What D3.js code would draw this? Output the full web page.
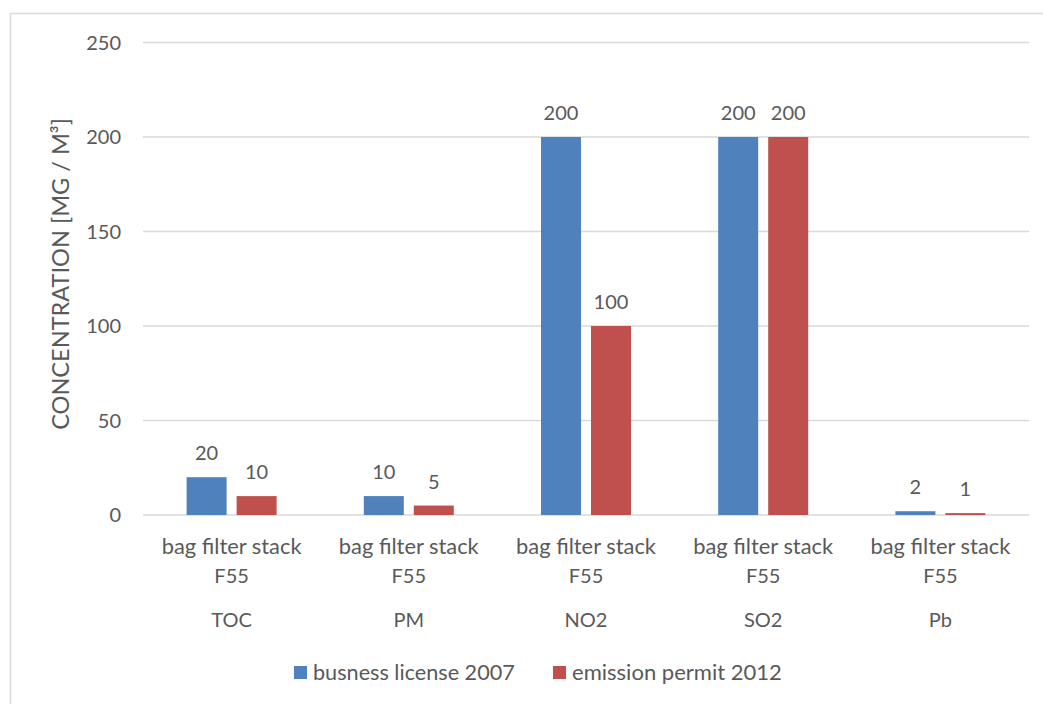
<!DOCTYPE html>
<html><head><meta charset="utf-8">
<script src="https://cdn.jsdelivr.net/npm/d3@7"></script>
<style>body{margin:0;background:#fff}svg{display:block}text{font-family:Lato,"Open Sans",sans-serif;fill:#595959}</style>
</head><body><svg id="c" width="1043" height="704"></svg>
<script>
const categories = ["TOC","PM","NO2","SO2","Pb"];
const subLabel = ["bag filter stack","F55"];
const seriesNames = ["busness license 2007","emission permit 2012"];
const license2007 = [20,10,200,200,2];
const permit2012 = [10,5,100,200,1];
const yTicks = [0,50,100,150,200,250];
const colors = ["#4f81bd","#c0504d"];

const svg = d3.select("#c");
svg.append("rect").attr("x",10.5).attr("y",13.5).attr("width",1040).attr("height",700)
  .attr("fill","none").attr("stroke","#d9d9d9").attr("stroke-width",1.5);

function fit(sel, target){
  const n = sel.node(); const fs = parseFloat(sel.attr("font-size"));
  const w = n.getComputedTextLength(); if (w>0) sel.attr("font-size", fs*target/w);
  return sel;
}

const x0 = d3.scaleBand().domain(categories).range([143,1029]).paddingInner(0).paddingOuter(0);
const y = d3.scaleLinear().domain([0,250]).range([515,42.5]);
const g = svg.append("g");
g.selectAll("line.grid").data(yTicks).join("line").attr("class","grid")
  .attr("x1",143).attr("x2",1029).attr("y1",d=>y(d)).attr("y2",d=>y(d))
  .attr("stroke","#d9d9d9").attr("stroke-width",1.5);
g.selectAll("text.yt").data(yTicks).join("text").attr("class","yt")
  .attr("x",121).attr("y",d=>y(d)).attr("dy","0.35em").attr("text-anchor","end")
  .attr("font-size",20).text(d=>d);

const series = [license2007, permit2012];
const bw = 40, gap = 10;
series.forEach((vals,si)=>{
  const off = si===0 ? -gap/2-bw : gap/2;
  g.selectAll("rect.s"+si).data(categories).join("rect").attr("class","s"+si)
    .attr("x",(c)=>x0(c)+x0.bandwidth()/2+off)
    .attr("width",bw)
    .attr("y",(c,i)=>y(vals[i]))
    .attr("height",(c,i)=>y(0)-y(vals[i]))
    .attr("fill",colors[si]);
  g.selectAll("text.l"+si).data(categories).join("text").attr("class","l"+si)
    .attr("x",(c)=>x0(c)+x0.bandwidth()/2+off+bw/2)
    .attr("y",(c,i)=>y(vals[i])-17)
    .attr("text-anchor","middle").attr("font-size",20)
    .text((c,i)=>vals[i]);
});
categories.forEach(c=>{
  const cx = x0(c)+x0.bandwidth()/2;
  fit(g.append("text").attr("x",cx).attr("y",554).attr("text-anchor","middle").attr("font-size",20).text(subLabel[0]),140);
  g.append("text").attr("x",cx).attr("y",583).attr("text-anchor","middle").attr("font-size",20).text(subLabel[1]);
  g.append("text").attr("x",cx).attr("y",627).attr("text-anchor","middle").attr("font-size",20).text(c);
});
fit(svg.append("text").attr("transform","translate(69,274) rotate(-90)").attr("text-anchor","middle")
  .attr("font-size",20).text("CONCENTRATION [MG / M³]"),312);

const legX = [294,553];
const legW = [202,210];
seriesNames.forEach((n,i)=>{
  svg.append("rect").attr("x",legX[i]).attr("y",666).attr("width",13).attr("height",13).attr("fill",colors[i]);
  fit(svg.append("text").attr("x",legX[i]+19).attr("y",672).attr("dy","0.35em").attr("font-size",20).text(n),legW[i]);
});
</script></body></html>
